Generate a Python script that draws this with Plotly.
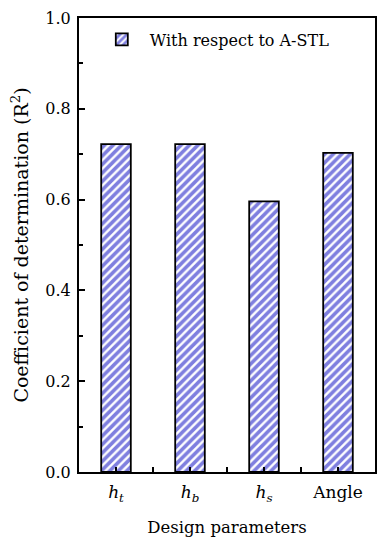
import plotly.graph_objects as go

categories = ["<i>h</i><sub><i>t</i></sub>", "<i>h</i><sub><i>b</i></sub>", "<i>h</i><sub><i>s</i></sub>", "Angle"]
values = [0.722, 0.722, 0.596, 0.703]
series_name = "With respect to A-STL"
y_ticks = [0.0, 0.2, 0.4, 0.6, 0.8, 1.0]
y_tick_labels = ["0.0", "0.2", "0.4", "0.6", "0.8", "1.0"]

font_family = "DejaVu Serif"

fig = go.Figure()
fig.add_trace(go.Bar(
    x=list(range(len(categories))),
    y=values,
    name=series_name,
    width=0.4,
    marker=dict(
        color="white",
        line=dict(color="black", width=1.8),
        pattern=dict(shape="/", fgcolor="#0000c0", bgcolor="white", size=6, solidity=0.6),
    ),
    showlegend=True,
))

# page body has an 8px margin: figure sized to fill the rest of the window
fig.update_layout(
    width=378, height=542,
    margin=dict(l=71, r=11, t=10, b=78),
    paper_bgcolor="white", plot_bgcolor="white",
    font=dict(family=font_family, size=16, color="black"),
    showlegend=True,
    legend=dict(x=0.05, y=0.99, xanchor="left", yanchor="top", itemwidth=46,
                bgcolor="rgba(0,0,0,0)", font=dict(size=16, family=font_family)),
)

fig.update_xaxes(
    range=[-0.5, 3.5], automargin=False,
    tickmode="array", tickvals=list(range(len(categories))), ticktext=categories,
    ticks="inside", ticklen=5, tickwidth=1.5, tickcolor="black", ticklabelstandoff=4,
    minor=dict(tickmode="array", tickvals=[0.5, 1.5, 2.5], ticks="inside", ticklen=5, tickwidth=1.5, tickcolor="black"),
    showline=True, linecolor="black", linewidth=2, mirror=True,
    showgrid=False, zeroline=False,
    title=dict(text="Design parameters", font=dict(size=16.5, family=font_family), standoff=17),
    tickfont=dict(size=17, family=font_family),
)

fig.update_yaxes(
    range=[0, 1.0], automargin=False,
    tickmode="array", tickvals=y_ticks, ticktext=y_tick_labels,
    ticks="inside", ticklen=6, tickwidth=1.5, tickcolor="black", ticklabelstandoff=3,
    minor=dict(dtick=0.1, ticks="inside", ticklen=4, tickwidth=1.5, tickcolor="black", showgrid=False),
    showline=True, linecolor="black", linewidth=2, mirror=True,
    showgrid=False, zeroline=False,
    title=dict(text="Coefficient of determination (R<sup>2</sup>)", font=dict(size=19, family=font_family), standoff=19),
    tickfont=dict(size=16, family=font_family),
)

fig.write_html("out.html")
